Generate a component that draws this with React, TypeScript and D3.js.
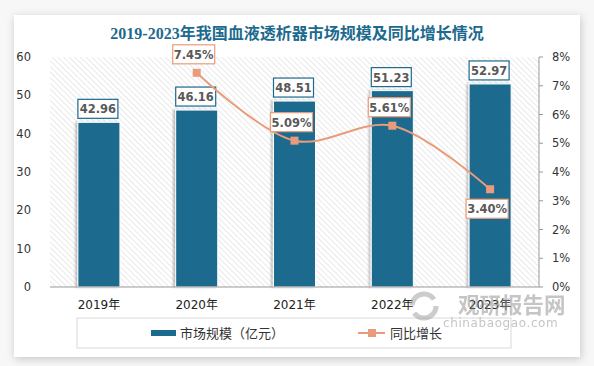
import React from 'react';
import * as d3 from 'd3';

// chart data
const years = ['2019年', '2020年', '2021年', '2022年', '2023年'];
const marketSize = [42.96, 46.16, 48.51, 51.23, 52.97]; // 亿元
const growthYears = ['2020年', '2021年', '2022年', '2023年'];
const growthRate = [7.45, 5.09, 5.61, 3.4]; // %
const growthLabelSide = ['top', 'top', 'top', 'bottom'];
const leftTicks = [0, 10, 20, 30, 40, 50, 60];
const rightTicks = [0, 1, 2, 3, 4, 5, 6, 7, 8];

const W = 594;
const H = 366;
const plot = { left: 50, right: 539, top: 57, bottom: 287 };

const BLUE = '#1c6a8e';
const SALMON = '#e99c7b';
const LABEL_GRAY = '#595959';
const SANS = '"DejaVu Sans", "Noto Sans CJK SC", sans-serif';

const App = () => {
  const x = d3.scaleBand().domain(years).range([plot.left, plot.right]).paddingInner(0.57).paddingOuter(0.285);
  const xc = (y: string) => (x(y) as number) + x.bandwidth() / 2;
  const yL = d3.scaleLinear().domain([0, 60]).range([plot.bottom, plot.top]);
  const yR = d3.scaleLinear().domain([0, 8]).range([plot.bottom, plot.top]);

  const pts: [number, number][] = growthYears.map((g, i) => [xc(g), yR(growthRate[i])]);
  const line = d3.line().curve(d3.curveCatmullRom.alpha(0.5))(pts) || '';

  const valueW = 40;
  const boxH = 19;

  return (
    <svg width={W} height={H} style={{ position: 'absolute', left: 0, top: 0 }}>
      <defs>
        <pattern id="hatch" width="4" height="4" patternUnits="userSpaceOnUse" patternTransform="rotate(-45)">
          <rect width="4" height="4" fill="#fff" />
          <line x1="0" y1="0" x2="0" y2="4" stroke="#d4d4d4" strokeWidth="1" />
        </pattern>
        <filter id="cardShadow" x="-5%" y="-5%" width="110%" height="115%">
          <feDropShadow dx="1" dy="2" stdDeviation="4" floodColor="#000" floodOpacity="0.2" />
        </filter>
        <filter id="barShadow" x="-20%" y="-5%" width="140%" height="110%">
          <feDropShadow dx="-2" dy="0" stdDeviation="1.2" floodColor="#000" floodOpacity="0.25" />
        </filter>
      </defs>

      <rect width={W} height={H} fill="#f7f7f7" />
      <rect x={14} y={15} width={566} height={342} fill="#fff" filter="url(#cardShadow)" />

      <text x={297} y={39} textAnchor="middle" fontFamily='"Liberation Serif", "Noto Sans CJK SC", serif'
        fontWeight="bold" fontSize={16} fill={BLUE}>
        2019-2023年我国血液透析器市场规模及同比增长情况
      </text>

      {/* plot background */}
      <rect x={plot.left} y={plot.top} width={plot.right - plot.left} height={plot.bottom - plot.top} fill="url(#hatch)" />

      {/* left axis labels */}
      {leftTicks.map(t => (
        <text key={'l' + t} x={31} y={yL(t) + 4} textAnchor="end" fontFamily={SANS} fontSize={11.5} fill="#333">{t}</text>
      ))}

      {/* right axis */}
      <line x1={plot.right} x2={plot.right} y1={plot.top} y2={plot.bottom} stroke="#999" />
      {rightTicks.map(t => (
        <g key={'r' + t}>
          <line x1={plot.right} x2={plot.right + 4} y1={yR(t)} y2={yR(t)} stroke="#999" />
          <text x={552} y={yR(t) + 4} fontFamily={SANS} fontSize={11.5} fill="#333">{t}%</text>
        </g>
      ))}

      {/* bars */}
      {years.map((yr, i) => (
        <rect key={yr} x={x(yr)} y={yL(marketSize[i])} width={x.bandwidth()} height={plot.bottom - yL(marketSize[i])}
          fill={BLUE} stroke="#fff" strokeWidth={1} filter="url(#barShadow)" />
      ))}

      <line x1={plot.left} x2={plot.right} y1={plot.bottom} y2={plot.bottom} stroke="#999" />

      {/* category labels */}
      {years.map(yr => (
        <text key={'c' + yr} x={xc(yr)} y={309} textAnchor="middle" fontFamily={SANS} fontSize={12} fill="#222">{yr}</text>
      ))}

      {/* bar value labels */}
      {years.map((yr, i) => {
        const top = yL(marketSize[i]) - 4 - boxH;
        return (
          <g key={'v' + yr}>
            <rect x={xc(yr) - valueW / 2 - 1} y={top} width={valueW} height={boxH} fill="#fff" stroke={BLUE} strokeWidth={1.2} />
            <text x={xc(yr) - 1} y={top + 14} textAnchor="middle" fontFamily={SANS} fontWeight="bold" fontSize={11.5} fill={LABEL_GRAY}>
              {marketSize[i].toFixed(2)}
            </text>
          </g>
        );
      })}

      {/* growth line */}
      <path d={line} fill="none" stroke={SALMON} strokeWidth={2} />
      {pts.map((p, i) => (
        <rect key={'m' + i} x={p[0] - 4} y={p[1] - 4} width={8} height={8} fill={SALMON} />
      ))}

      {pts.map((p, i) => {
        const w = 42;
        const top = growthLabelSide[i] === 'top' ? p[1] - 9 - boxH : p[1] + 10;
        return (
          <g key={'g' + i}>
            <rect x={p[0] - w / 2 - 3} y={top} width={w} height={boxH} fill="#fff" stroke={SALMON} strokeWidth={1.2} />
            <text x={p[0] - 3} y={top + 14} textAnchor="middle" fontFamily={SANS} fontWeight="bold" fontSize={11.5} fill={LABEL_GRAY}>
              {growthRate[i].toFixed(2)}%
            </text>
          </g>
        );
      })}

      {/* legend */}
      <rect x={77} y={318} width={434} height={30} fill="#fff" stroke="#d9d9d9" />
      <rect x={151} y={330} width={25} height={6} fill={BLUE} />
      <text x={180} y={338} fontFamily='"Noto Sans CJK SC", sans-serif' fontSize={13} fill="#333">市场规模（亿元）</text>
      <line x1={358} x2={385} y1={333} y2={333} stroke={SALMON} strokeWidth={2} />
      <rect x={368} y={329} width={8} height={8} fill={SALMON} />
      <text x={390} y={338} fontFamily='"Noto Sans CJK SC", sans-serif' fontSize={13} fill="#333">同比增长</text>

      {/* watermark */}
      <g opacity={0.5}>
        <circle cx={424} cy={306} r={12} fill="none" stroke="#9a9a9a" strokeWidth={5} strokeDasharray="30 8" />
        <text x={458} y={313} fontFamily='"Noto Sans CJK SC", sans-serif' fontWeight="bold" fontSize={21.5} fill="#8c8c8c">观研报告网</text>
        <text x={443} y={327} fontFamily={SANS} fontSize={12} fill="#8c8c8c" letterSpacing={0.6}>chinabaogao.com</text>
      </g>
    </svg>
  );
};

export default App;
